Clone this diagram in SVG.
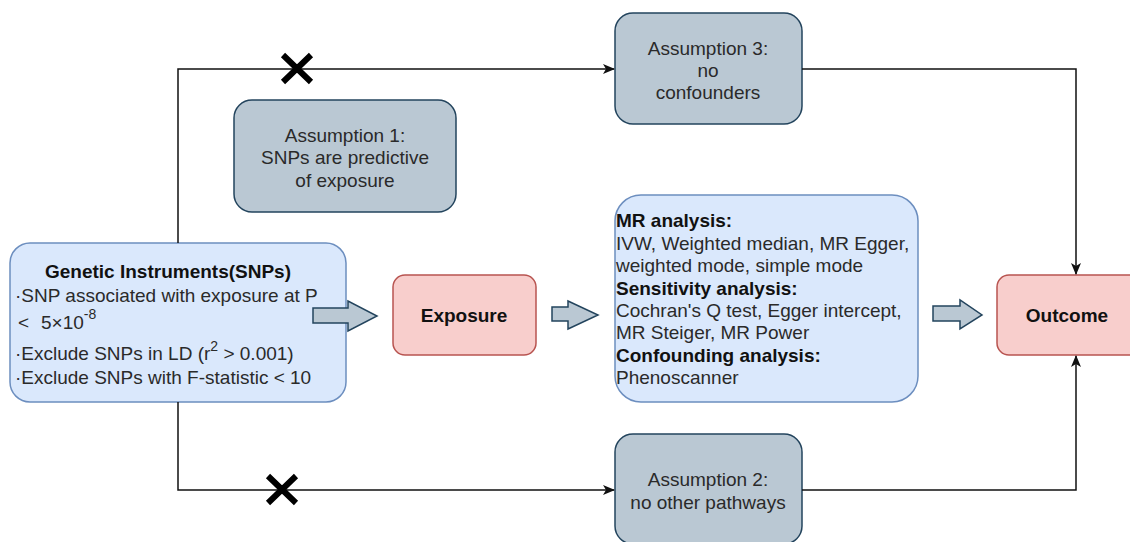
<svg xmlns="http://www.w3.org/2000/svg" width="1130" height="542" viewBox="0 0 1130 542">
<defs>
<marker id="ah" markerWidth="12" markerHeight="10" refX="11" refY="5" orient="auto" markerUnits="userSpaceOnUse">
<path d="M0,0 L12,5 L0,10 L3,5 Z" fill="#111"/>
</marker>
<style>
text{font-family:"Liberation Sans",Arial,sans-serif;font-size:19px;fill:#2a2a2a}
.gray{fill:#bac8d3;stroke:#23445d;stroke-width:1.5}
.blue{fill:#dae8fc;stroke:#6c8ebf;stroke-width:1.5}
.red{fill:#f8cecc;stroke:#b85450;stroke-width:1.5}
.c{text-anchor:middle}
.b{font-weight:bold;fill:#111}
.sup{font-size:14px}
.line{fill:none;stroke:#111;stroke-width:1.5}
.blk{fill:#bac8d3;stroke:#23445d;stroke-width:1.5}
.x{stroke:#000;stroke-width:6;stroke-linecap:butt}
</style>
</defs>
<rect width="1130" height="542" fill="#fff"/>
<g id="assumption3">
<rect class="gray" x="615" y="13" width="187" height="111" rx="18"/>
<text class="c" x="708" y="55">Assumption 3:</text>
<text class="c" x="708" y="77">no</text>
<text class="c" x="708" y="99">confounders</text>
</g>
<g id="assumption1">
<rect class="gray" x="234" y="100" width="222" height="112" rx="18"/>
<text class="c" x="345" y="142">Assumption 1:</text>
<text class="c" x="345" y="164">SNPs are predictive</text>
<text class="c" x="345" y="187">of exposure</text>
</g>
<g id="assumption2">
<rect class="gray" x="615" y="434" width="187" height="110" rx="18"/>
<text class="c" x="708" y="486">Assumption 2:</text>
<text class="c" x="708" y="509">no other pathways</text>
</g>
<g id="genetic">
<rect class="blue" x="10" y="243" width="336" height="159" rx="20"/>
<text class="c b" x="168" y="278">Genetic Instruments(SNPs)</text>
<text x="15" y="302">·SNP associated with exposure at P</text>
<text x="18" y="329">&lt;<tspan x="41">5×10</tspan><tspan class="sup" dy="-10">-8</tspan></text>
<text x="15" y="360">·Exclude SNPs in LD (r<tspan class="sup" dy="-9">2</tspan><tspan dy="9"> &gt; 0.001)</tspan></text>
<text x="15" y="384">·Exclude SNPs with F-statistic &lt; 10</text>
</g>
<g id="exposure">
<rect class="red" x="393" y="275" width="143" height="80" rx="12"/>
<text class="c b" x="464" y="322">Exposure</text>
</g>
<g id="mr">
<rect class="blue" x="615" y="195" width="303" height="207" rx="26"/>
<text class="b" x="616" y="227">MR analysis:</text>
<text x="616" y="250">IVW, Weighted median, MR Egger,</text>
<text x="616" y="272">weighted mode, simple mode</text>
<text class="b" x="616" y="295">Sensitivity analysis:</text>
<text x="616" y="317">Cochran's Q test, Egger intercept,</text>
<text x="616" y="339">MR Steiger, MR Power</text>
<text class="b" x="616" y="362">Confounding analysis:</text>
<text x="616" y="384">Phenoscanner</text>
</g>
<g id="outcome">
<rect class="red" x="997" y="275" width="150" height="80" rx="12"/>
<text class="c b" x="1067" y="322">Outcome</text>
</g>
<g id="connectors">
<path class="line" d="M178,243 V69 H614" marker-end="url(#ah)"/>
<path class="line" d="M178,402 V490 H614" marker-end="url(#ah)"/>
<path class="line" d="M802,69 H1076 V274" marker-end="url(#ah)"/>
<path class="line" d="M802,490 H1076 V356" marker-end="url(#ah)"/>
<path class="blk" d="M313,308 H348 V301 L377,316 L348,331 V323 H313 Z"/>
<path class="blk" d="M552,307 H568 V301 L598,315 L568,329 V321 H552 Z"/>
<path class="blk" d="M933,306 H960 V300 L982,315 L960,329 V321 H933 Z"/>
<path class="x" d="M283,55 L311,82 M311,55 L283,82"/>
<path class="x" d="M268,476 L296,503 M296,476 L268,503"/>
</g>
</svg>
